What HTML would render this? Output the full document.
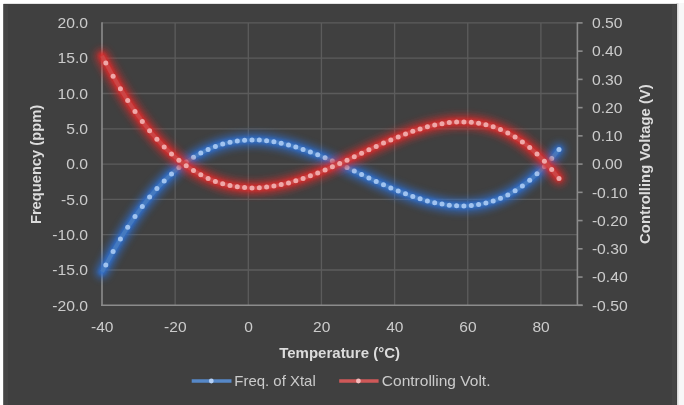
<!DOCTYPE html>
<html><head><meta charset="utf-8"><title>Frequency vs Temperature</title>
<style>
html,body{margin:0;padding:0;background:#f7f7f7;}
body{width:684px;height:405px;overflow:hidden;}
svg{display:block;}
text{font-family:"Liberation Sans",sans-serif;}
</style></head><body>
<svg width="684" height="405" viewBox="0 0 684 405">
<defs>
<filter id="gb" x="-10%" y="-10%" width="120%" height="120%"><feGaussianBlur stdDeviation="3.8"/></filter>
<filter id="gb2" x="-10%" y="-10%" width="120%" height="120%"><feGaussianBlur stdDeviation="1.4"/></filter>
<filter id="eb" x="-5%" y="-5%" width="110%" height="110%"><feGaussianBlur stdDeviation="0.6"/></filter>
<linearGradient id="rg" x1="0" x2="1" y1="0" y2="0"><stop offset="0" stop-color="#c9c9c9"/><stop offset="1" stop-color="#f7f7f7"/></linearGradient>
</defs>
<rect x="0" y="0" width="684" height="405" fill="#f7f7f7"/>
<rect x="0" y="0" width="4" height="405" fill="#ffffff"/>
<rect x="0" y="0" width="684" height="3" fill="#ffffff"/>
<rect x="676.5" y="3" width="3" height="402" fill="url(#rg)"/>
<rect x="3.2" y="3.9" width="673.8" height="402" fill="#404040"/>
<rect x="3.6" y="4.4" width="673" height="402" fill="none" stroke="#464646" stroke-width="0"/>
<rect x="4" y="5" width="4" height="400" fill="#454545"/>
<rect x="672" y="5" width="4" height="400" fill="#454545"/>

<g stroke="#5c5c5c" stroke-width="1.3" fill="none">
<line x1="102.0" x2="577.4" y1="22.90" y2="22.90"/>
<line x1="102.0" x2="577.4" y1="58.20" y2="58.20"/>
<line x1="102.0" x2="577.4" y1="93.50" y2="93.50"/>
<line x1="102.0" x2="577.4" y1="128.80" y2="128.80"/>
<line x1="102.0" x2="577.4" y1="164.10" y2="164.10"/>
<line x1="102.0" x2="577.4" y1="199.40" y2="199.40"/>
<line x1="102.0" x2="577.4" y1="234.70" y2="234.70"/>
<line x1="102.0" x2="577.4" y1="270.00" y2="270.00"/>
<line x1="175.15" x2="175.15" y1="22.9" y2="305.29999999999995"/>
<line x1="248.30" x2="248.30" y1="22.9" y2="305.29999999999995"/>
<line x1="321.45" x2="321.45" y1="22.9" y2="305.29999999999995"/>
<line x1="394.60" x2="394.60" y1="22.9" y2="305.29999999999995"/>
<line x1="467.75" x2="467.75" y1="22.9" y2="305.29999999999995"/>
<line x1="540.90" x2="540.90" y1="22.9" y2="305.29999999999995"/>
</g>
<g stroke="#8c8c8c" stroke-width="1.6" fill="none">
<line x1="102.0" x2="102.0" y1="22.299999999999997" y2="306.09999999999997"/>
<line x1="101.2" x2="582.6" y1="305.29999999999995" y2="305.29999999999995"/>
<line x1="577.4" x2="577.4" y1="22.299999999999997" y2="306.09999999999997"/>
</g>
<path d="M102.1,271.9 L105.8,264.9 L113.1,251.5 L120.4,239.0 L127.7,227.3 L135.0,216.4 L142.3,206.4 L149.6,197.1 L156.9,188.6 L164.2,180.9 L171.5,173.9 L178.9,167.6 L186.2,162.1 L193.5,157.2 L200.8,153.0 L208.1,149.4 L215.4,146.4 L222.7,144.0 L230.0,142.2 L237.3,141.0 L244.6,140.2 L252.0,139.9 L259.3,140.1 L266.6,140.8 L273.9,141.8 L281.2,143.2 L288.5,144.9 L295.8,147.0 L303.1,149.4 L310.4,152.0 L317.7,154.8 L325.1,157.8 L332.4,161.0 L339.7,164.2 L347.0,167.6 L354.3,171.1 L361.6,174.5 L368.9,178.0 L376.2,181.4 L383.5,184.7 L390.8,187.9 L398.2,190.9 L405.5,193.8 L412.8,196.5 L420.1,198.8 L427.4,201.0 L434.7,202.7 L442.0,204.1 L449.3,205.2 L456.6,205.7 L463.9,205.9 L471.3,205.5 L478.6,204.6 L485.9,203.1 L493.2,201.0 L500.5,198.3 L507.8,194.9 L515.1,190.8 L522.4,185.9 L529.7,180.3 L537.0,173.8 L544.4,166.6 L551.7,158.4 L559.0,149.4" fill="none" stroke="#2f6fd0" stroke-width="14" stroke-linecap="round" stroke-linejoin="round" opacity="0.68" filter="url(#gb)"/>
<path d="M102.1,271.9 L105.8,264.9 L113.1,251.5 L120.4,239.0 L127.7,227.3 L135.0,216.4 L142.3,206.4 L149.6,197.1 L156.9,188.6 L164.2,180.9 L171.5,173.9 L178.9,167.6 L186.2,162.1 L193.5,157.2 L200.8,153.0 L208.1,149.4 L215.4,146.4 L222.7,144.0 L230.0,142.2 L237.3,141.0 L244.6,140.2 L252.0,139.9 L259.3,140.1 L266.6,140.8 L273.9,141.8 L281.2,143.2 L288.5,144.9 L295.8,147.0 L303.1,149.4 L310.4,152.0 L317.7,154.8 L325.1,157.8 L332.4,161.0 L339.7,164.2 L347.0,167.6 L354.3,171.1 L361.6,174.5 L368.9,178.0 L376.2,181.4 L383.5,184.7 L390.8,187.9 L398.2,190.9 L405.5,193.8 L412.8,196.5 L420.1,198.8 L427.4,201.0 L434.7,202.7 L442.0,204.1 L449.3,205.2 L456.6,205.7 L463.9,205.9 L471.3,205.5 L478.6,204.6 L485.9,203.1 L493.2,201.0 L500.5,198.3 L507.8,194.9 L515.1,190.8 L522.4,185.9 L529.7,180.3 L537.0,173.8 L544.4,166.6 L551.7,158.4 L559.0,149.4" fill="none" stroke="#2f6fd0" stroke-width="7" stroke-linecap="round" stroke-linejoin="round" opacity="0.7" filter="url(#gb2)"/>
<path d="M102.1,271.9 L105.8,264.9 L113.1,251.5 L120.4,239.0 L127.7,227.3 L135.0,216.4 L142.3,206.4 L149.6,197.1 L156.9,188.6 L164.2,180.9 L171.5,173.9 L178.9,167.6 L186.2,162.1 L193.5,157.2 L200.8,153.0 L208.1,149.4 L215.4,146.4 L222.7,144.0 L230.0,142.2 L237.3,141.0 L244.6,140.2 L252.0,139.9 L259.3,140.1 L266.6,140.8 L273.9,141.8 L281.2,143.2 L288.5,144.9 L295.8,147.0 L303.1,149.4 L310.4,152.0 L317.7,154.8 L325.1,157.8 L332.4,161.0 L339.7,164.2 L347.0,167.6 L354.3,171.1 L361.6,174.5 L368.9,178.0 L376.2,181.4 L383.5,184.7 L390.8,187.9 L398.2,190.9 L405.5,193.8 L412.8,196.5 L420.1,198.8 L427.4,201.0 L434.7,202.7 L442.0,204.1 L449.3,205.2 L456.6,205.7 L463.9,205.9 L471.3,205.5 L478.6,204.6 L485.9,203.1 L493.2,201.0 L500.5,198.3 L507.8,194.9 L515.1,190.8 L522.4,185.9 L529.7,180.3 L537.0,173.8 L544.4,166.6 L551.7,158.4 L559.0,149.4" fill="none" stroke="#447ac0" stroke-width="4" stroke-linecap="butt" stroke-linejoin="round" filter="url(#eb)"/>
<g fill="#a0c3f0" filter="url(#eb)"><circle cx="105.8" cy="264.9" r="2.5"/><circle cx="113.1" cy="251.5" r="2.5"/><circle cx="120.4" cy="239.0" r="2.5"/><circle cx="127.7" cy="227.3" r="2.5"/><circle cx="135.0" cy="216.4" r="2.5"/><circle cx="142.3" cy="206.4" r="2.5"/><circle cx="149.6" cy="197.1" r="2.5"/><circle cx="156.9" cy="188.6" r="2.5"/><circle cx="164.2" cy="180.9" r="2.5"/><circle cx="171.5" cy="173.9" r="2.5"/><circle cx="178.9" cy="167.6" r="2.5"/><circle cx="186.2" cy="162.1" r="2.5"/><circle cx="193.5" cy="157.2" r="2.5"/><circle cx="200.8" cy="153.0" r="2.5"/><circle cx="208.1" cy="149.4" r="2.5"/><circle cx="215.4" cy="146.4" r="2.5"/><circle cx="222.7" cy="144.0" r="2.5"/><circle cx="230.0" cy="142.2" r="2.5"/><circle cx="237.3" cy="141.0" r="2.5"/><circle cx="244.6" cy="140.2" r="2.5"/><circle cx="252.0" cy="139.9" r="2.5"/><circle cx="259.3" cy="140.1" r="2.5"/><circle cx="266.6" cy="140.8" r="2.5"/><circle cx="273.9" cy="141.8" r="2.5"/><circle cx="281.2" cy="143.2" r="2.5"/><circle cx="288.5" cy="144.9" r="2.5"/><circle cx="295.8" cy="147.0" r="2.5"/><circle cx="303.1" cy="149.4" r="2.5"/><circle cx="310.4" cy="152.0" r="2.5"/><circle cx="317.7" cy="154.8" r="2.5"/><circle cx="325.1" cy="157.8" r="2.5"/><circle cx="332.4" cy="161.0" r="2.5"/><circle cx="339.7" cy="164.2" r="2.5"/><circle cx="347.0" cy="167.6" r="2.5"/><circle cx="354.3" cy="171.1" r="2.5"/><circle cx="361.6" cy="174.5" r="2.5"/><circle cx="368.9" cy="178.0" r="2.5"/><circle cx="376.2" cy="181.4" r="2.5"/><circle cx="383.5" cy="184.7" r="2.5"/><circle cx="390.8" cy="187.9" r="2.5"/><circle cx="398.2" cy="190.9" r="2.5"/><circle cx="405.5" cy="193.8" r="2.5"/><circle cx="412.8" cy="196.5" r="2.5"/><circle cx="420.1" cy="198.8" r="2.5"/><circle cx="427.4" cy="201.0" r="2.5"/><circle cx="434.7" cy="202.7" r="2.5"/><circle cx="442.0" cy="204.1" r="2.5"/><circle cx="449.3" cy="205.2" r="2.5"/><circle cx="456.6" cy="205.7" r="2.5"/><circle cx="463.9" cy="205.9" r="2.5"/><circle cx="471.3" cy="205.5" r="2.5"/><circle cx="478.6" cy="204.6" r="2.5"/><circle cx="485.9" cy="203.1" r="2.5"/><circle cx="493.2" cy="201.0" r="2.5"/><circle cx="500.5" cy="198.3" r="2.5"/><circle cx="507.8" cy="194.9" r="2.5"/><circle cx="515.1" cy="190.8" r="2.5"/><circle cx="522.4" cy="185.9" r="2.5"/><circle cx="529.7" cy="180.3" r="2.5"/><circle cx="537.0" cy="173.8" r="2.5"/><circle cx="544.4" cy="166.6" r="2.5"/><circle cx="551.7" cy="158.4" r="2.5"/><circle cx="559.0" cy="149.4" r="2.5"/></g>
<path d="M102.1,55.9 L105.8,62.9 L113.1,76.3 L120.4,88.8 L127.7,100.5 L135.0,111.4 L142.3,121.4 L149.6,130.7 L156.9,139.2 L164.2,146.9 L171.5,153.9 L178.9,160.2 L186.2,165.7 L193.5,170.6 L200.8,174.8 L208.1,178.4 L215.4,181.4 L222.7,183.8 L230.0,185.6 L237.3,186.8 L244.6,187.6 L252.0,187.9 L259.3,187.7 L266.6,187.0 L273.9,186.0 L281.2,184.6 L288.5,182.9 L295.8,180.8 L303.1,178.4 L310.4,175.8 L317.7,173.0 L325.1,170.0 L332.4,166.8 L339.7,163.6 L347.0,160.2 L354.3,156.7 L361.6,153.3 L368.9,149.8 L376.2,146.4 L383.5,143.1 L390.8,139.9 L398.2,136.9 L405.5,134.0 L412.8,131.3 L420.1,129.0 L427.4,126.8 L434.7,125.1 L442.0,123.7 L449.3,122.6 L456.6,122.1 L463.9,121.9 L471.3,122.3 L478.6,123.2 L485.9,124.7 L493.2,126.8 L500.5,129.5 L507.8,132.9 L515.1,137.0 L522.4,141.9 L529.7,147.5 L537.0,154.0 L544.4,161.2 L551.7,169.4 L559.0,178.4" fill="none" stroke="#e02a2a" stroke-width="14" stroke-linecap="round" stroke-linejoin="round" opacity="0.68" filter="url(#gb)"/>
<path d="M102.1,55.9 L105.8,62.9 L113.1,76.3 L120.4,88.8 L127.7,100.5 L135.0,111.4 L142.3,121.4 L149.6,130.7 L156.9,139.2 L164.2,146.9 L171.5,153.9 L178.9,160.2 L186.2,165.7 L193.5,170.6 L200.8,174.8 L208.1,178.4 L215.4,181.4 L222.7,183.8 L230.0,185.6 L237.3,186.8 L244.6,187.6 L252.0,187.9 L259.3,187.7 L266.6,187.0 L273.9,186.0 L281.2,184.6 L288.5,182.9 L295.8,180.8 L303.1,178.4 L310.4,175.8 L317.7,173.0 L325.1,170.0 L332.4,166.8 L339.7,163.6 L347.0,160.2 L354.3,156.7 L361.6,153.3 L368.9,149.8 L376.2,146.4 L383.5,143.1 L390.8,139.9 L398.2,136.9 L405.5,134.0 L412.8,131.3 L420.1,129.0 L427.4,126.8 L434.7,125.1 L442.0,123.7 L449.3,122.6 L456.6,122.1 L463.9,121.9 L471.3,122.3 L478.6,123.2 L485.9,124.7 L493.2,126.8 L500.5,129.5 L507.8,132.9 L515.1,137.0 L522.4,141.9 L529.7,147.5 L537.0,154.0 L544.4,161.2 L551.7,169.4 L559.0,178.4" fill="none" stroke="#e02a2a" stroke-width="7" stroke-linecap="round" stroke-linejoin="round" opacity="0.7" filter="url(#gb2)"/>
<path d="M102.1,55.9 L105.8,62.9 L113.1,76.3 L120.4,88.8 L127.7,100.5 L135.0,111.4 L142.3,121.4 L149.6,130.7 L156.9,139.2 L164.2,146.9 L171.5,153.9 L178.9,160.2 L186.2,165.7 L193.5,170.6 L200.8,174.8 L208.1,178.4 L215.4,181.4 L222.7,183.8 L230.0,185.6 L237.3,186.8 L244.6,187.6 L252.0,187.9 L259.3,187.7 L266.6,187.0 L273.9,186.0 L281.2,184.6 L288.5,182.9 L295.8,180.8 L303.1,178.4 L310.4,175.8 L317.7,173.0 L325.1,170.0 L332.4,166.8 L339.7,163.6 L347.0,160.2 L354.3,156.7 L361.6,153.3 L368.9,149.8 L376.2,146.4 L383.5,143.1 L390.8,139.9 L398.2,136.9 L405.5,134.0 L412.8,131.3 L420.1,129.0 L427.4,126.8 L434.7,125.1 L442.0,123.7 L449.3,122.6 L456.6,122.1 L463.9,121.9 L471.3,122.3 L478.6,123.2 L485.9,124.7 L493.2,126.8 L500.5,129.5 L507.8,132.9 L515.1,137.0 L522.4,141.9 L529.7,147.5 L537.0,154.0 L544.4,161.2 L551.7,169.4 L559.0,178.4" fill="none" stroke="#cc4444" stroke-width="4" stroke-linecap="butt" stroke-linejoin="round" filter="url(#eb)"/>
<g fill="#efa8a8" filter="url(#eb)"><circle cx="105.8" cy="62.9" r="2.5"/><circle cx="113.1" cy="76.3" r="2.5"/><circle cx="120.4" cy="88.8" r="2.5"/><circle cx="127.7" cy="100.5" r="2.5"/><circle cx="135.0" cy="111.4" r="2.5"/><circle cx="142.3" cy="121.4" r="2.5"/><circle cx="149.6" cy="130.7" r="2.5"/><circle cx="156.9" cy="139.2" r="2.5"/><circle cx="164.2" cy="146.9" r="2.5"/><circle cx="171.5" cy="153.9" r="2.5"/><circle cx="178.9" cy="160.2" r="2.5"/><circle cx="186.2" cy="165.7" r="2.5"/><circle cx="193.5" cy="170.6" r="2.5"/><circle cx="200.8" cy="174.8" r="2.5"/><circle cx="208.1" cy="178.4" r="2.5"/><circle cx="215.4" cy="181.4" r="2.5"/><circle cx="222.7" cy="183.8" r="2.5"/><circle cx="230.0" cy="185.6" r="2.5"/><circle cx="237.3" cy="186.8" r="2.5"/><circle cx="244.6" cy="187.6" r="2.5"/><circle cx="252.0" cy="187.9" r="2.5"/><circle cx="259.3" cy="187.7" r="2.5"/><circle cx="266.6" cy="187.0" r="2.5"/><circle cx="273.9" cy="186.0" r="2.5"/><circle cx="281.2" cy="184.6" r="2.5"/><circle cx="288.5" cy="182.9" r="2.5"/><circle cx="295.8" cy="180.8" r="2.5"/><circle cx="303.1" cy="178.4" r="2.5"/><circle cx="310.4" cy="175.8" r="2.5"/><circle cx="317.7" cy="173.0" r="2.5"/><circle cx="325.1" cy="170.0" r="2.5"/><circle cx="332.4" cy="166.8" r="2.5"/><circle cx="339.7" cy="163.6" r="2.5"/><circle cx="347.0" cy="160.2" r="2.5"/><circle cx="354.3" cy="156.7" r="2.5"/><circle cx="361.6" cy="153.3" r="2.5"/><circle cx="368.9" cy="149.8" r="2.5"/><circle cx="376.2" cy="146.4" r="2.5"/><circle cx="383.5" cy="143.1" r="2.5"/><circle cx="390.8" cy="139.9" r="2.5"/><circle cx="398.2" cy="136.9" r="2.5"/><circle cx="405.5" cy="134.0" r="2.5"/><circle cx="412.8" cy="131.3" r="2.5"/><circle cx="420.1" cy="129.0" r="2.5"/><circle cx="427.4" cy="126.8" r="2.5"/><circle cx="434.7" cy="125.1" r="2.5"/><circle cx="442.0" cy="123.7" r="2.5"/><circle cx="449.3" cy="122.6" r="2.5"/><circle cx="456.6" cy="122.1" r="2.5"/><circle cx="463.9" cy="121.9" r="2.5"/><circle cx="471.3" cy="122.3" r="2.5"/><circle cx="478.6" cy="123.2" r="2.5"/><circle cx="485.9" cy="124.7" r="2.5"/><circle cx="493.2" cy="126.8" r="2.5"/><circle cx="500.5" cy="129.5" r="2.5"/><circle cx="507.8" cy="132.9" r="2.5"/><circle cx="515.1" cy="137.0" r="2.5"/><circle cx="522.4" cy="141.9" r="2.5"/><circle cx="529.7" cy="147.5" r="2.5"/><circle cx="537.0" cy="154.0" r="2.5"/><circle cx="544.4" cy="161.2" r="2.5"/><circle cx="551.7" cy="169.4" r="2.5"/><circle cx="559.0" cy="178.4" r="2.5"/></g>
<g fill="#cbcbcb" font-size="15.1" text-anchor="end">
<text transform="translate(88,28.1) scale(1.04,1)">20.0</text>
<text transform="translate(88,63.4) scale(1.04,1)">15.0</text>
<text transform="translate(88,98.7) scale(1.04,1)">10.0</text>
<text transform="translate(88,134.0) scale(1.04,1)">5.0</text>
<text transform="translate(88,169.3) scale(1.04,1)">0.0</text>
<text transform="translate(88,204.6) scale(1.04,1)">-5.0</text>
<text transform="translate(88,239.9) scale(1.04,1)">-10.0</text>
<text transform="translate(88,275.2) scale(1.04,1)">-15.0</text>
<text transform="translate(88,310.5) scale(1.04,1)">-20.0</text>
</g>
<g fill="#cbcbcb" font-size="15.1" text-anchor="start">
<text transform="translate(591.9,28.1) scale(1.04,1)">0.50</text>
<text transform="translate(591.9,56.3) scale(1.04,1)">0.40</text>
<text transform="translate(591.9,84.6) scale(1.04,1)">0.30</text>
<text transform="translate(591.9,112.8) scale(1.04,1)">0.20</text>
<text transform="translate(591.9,141.1) scale(1.04,1)">0.10</text>
<text transform="translate(591.9,169.3) scale(1.04,1)">0.00</text>
<text transform="translate(591.9,197.5) scale(1.04,1)">-0.10</text>
<text transform="translate(591.9,225.8) scale(1.04,1)">-0.20</text>
<text transform="translate(591.9,254.0) scale(1.04,1)">-0.30</text>
<text transform="translate(591.9,282.3) scale(1.04,1)">-0.40</text>
<text transform="translate(591.9,310.5) scale(1.04,1)">-0.50</text>
</g>
<g stroke="#8c8c8c" stroke-width="1.6">
<line x1="577.4" x2="582.6" y1="22.90" y2="22.90"/>
<line x1="577.4" x2="582.6" y1="51.14" y2="51.14"/>
<line x1="577.4" x2="582.6" y1="79.38" y2="79.38"/>
<line x1="577.4" x2="582.6" y1="107.62" y2="107.62"/>
<line x1="577.4" x2="582.6" y1="135.86" y2="135.86"/>
<line x1="577.4" x2="582.6" y1="164.10" y2="164.10"/>
<line x1="577.4" x2="582.6" y1="192.34" y2="192.34"/>
<line x1="577.4" x2="582.6" y1="220.58" y2="220.58"/>
<line x1="577.4" x2="582.6" y1="248.82" y2="248.82"/>
<line x1="577.4" x2="582.6" y1="277.06" y2="277.06"/>
<line x1="577.4" x2="582.6" y1="305.30" y2="305.30"/>
</g>
<g fill="#cbcbcb" font-size="15.1" text-anchor="middle">
<text transform="translate(102.2,332.4) scale(1.03,1)">-40</text>
<text transform="translate(175.3,332.4) scale(1.03,1)">-20</text>
<text transform="translate(248.5,332.4) scale(1.03,1)">0</text>
<text transform="translate(321.7,332.4) scale(1.03,1)">20</text>
<text transform="translate(394.8,332.4) scale(1.03,1)">40</text>
<text transform="translate(467.9,332.4) scale(1.03,1)">60</text>
<text transform="translate(541.1,332.4) scale(1.03,1)">80</text>
</g>
<text x="339.6" y="358.2" fill="#dcdcdc" font-size="13.8" font-weight="bold" text-anchor="middle" textLength="120.8" lengthAdjust="spacingAndGlyphs">Temperature (°C)</text>
<text transform="translate(41.1,164.5) rotate(-90)" fill="#dcdcdc" font-size="14.6" font-weight="bold" text-anchor="middle" textLength="119.2" lengthAdjust="spacingAndGlyphs">Frequency (ppm)</text>
<text transform="translate(649.5,164.1) rotate(-90)" fill="#dcdcdc" font-size="14.8" font-weight="bold" text-anchor="middle" textLength="159.6" lengthAdjust="spacingAndGlyphs">Controlling Voltage (V)</text>
<line x1="191.7" x2="231.5" y1="381" y2="381" stroke="#5688c8" stroke-width="3.3"/><circle cx="211.3" cy="381" r="2.4" fill="#b4d0f6"/>
<text x="234.3" y="386.4" fill="#cbcbcb" font-size="15" textLength="81.4" lengthAdjust="spacingAndGlyphs">Freq. of Xtal</text>
<line x1="339.2" x2="378.6" y1="381" y2="381" stroke="#cf5858" stroke-width="3.3"/><circle cx="358.4" cy="381" r="2.4" fill="#f6bcbc"/>
<text x="381.8" y="386.4" fill="#cbcbcb" font-size="15" textLength="108.7" lengthAdjust="spacingAndGlyphs">Controlling Volt.</text>
</svg></body></html>
